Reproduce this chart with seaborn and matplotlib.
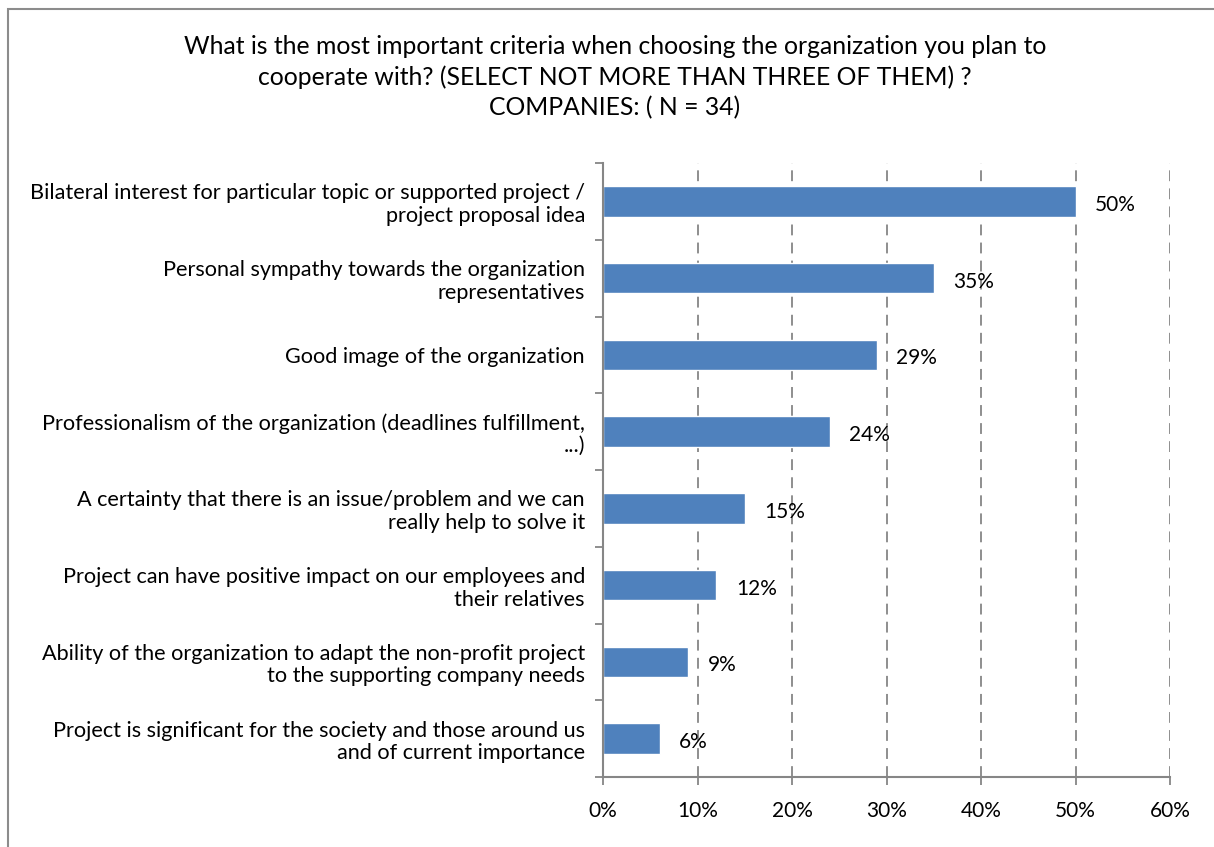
import matplotlib
matplotlib.use("Agg")
import matplotlib.pyplot as plt
from matplotlib.patches import Rectangle
from matplotlib.ticker import FixedLocator, MultipleLocator, FuncFormatter
import seaborn as sns
import pandas as pd

title_lines = [
    "What is the most important criteria when choosing the organization you plan to",
    "cooperate with? (SELECT NOT MORE THAN THREE OF THEM) ?",
    "COMPANIES: ( N = 34)",
]

criteria = [
    "Bilateral interest for particular topic or supported project /\nproject proposal idea",
    "Personal sympathy towards the organization\nrepresentatives",
    "Good image of the organization",
    "Professionalism of the organization (deadlines fulfillment,\n...)",
    "A certainty that there is an issue/problem and we can\nreally help to solve it",
    "Project can have positive impact on our employees and\ntheir relatives",
    "Ability of the organization to adapt the non-profit project\nto the supporting company needs",
    "Project is significant for the society and those around us\nand of current importance",
]
shares = [50, 35, 29, 24, 15, 12, 9, 6]

sns.set_theme(style="white")
plt.rcParams["font.family"] = ["Lato", "DejaVu Sans"]

BAR = "#4F81BD"
AXIS_GREY = "#868686"
FS_CAT = 15.6
FS_TICK = 15
FS_VAL = 15

fig = plt.figure(figsize=(12.14, 8.47), dpi=100)
fig.patch.set_facecolor("white")
ax = fig.add_axes([603 / 1214, 1 - 777 / 847, (1170 - 603) / 1214, (777 - 163) / 847])

df = pd.DataFrame({"criterion": criteria, "share": shares})
sns.barplot(data=df, y="criterion", x="share", orient="h", color=BAR,
            width=0.4, saturation=1, ax=ax, zorder=3)

ax.set_xlim(0, 60)
ax.set_ylim(len(criteria) - 0.5, -0.5)
ax.set_xlabel("")
ax.set_ylabel("")

# x axis: percentages with dashed vertical gridlines
ax.xaxis.set_major_locator(MultipleLocator(10))
ax.xaxis.set_major_formatter(FuncFormatter(lambda v, _: f"{v:.0f}%"))
ax.tick_params(axis="x", which="major", length=6, width=1.3, color=AXIS_GREY,
               direction="out", pad=11, labelsize=FS_TICK, labelcolor="black", bottom=True)
ax.grid(axis="x", which="major", linestyle=(0, (6, 4)), color=AXIS_GREY, linewidth=1.3, zorder=0)
ax.grid(axis="y", visible=False)

# y axis: labels at category centres, tick marks at category boundaries
ax.tick_params(axis="y", which="major", length=0, pad=13, labelsize=FS_CAT, labelcolor="black")
ax.yaxis.set_minor_locator(FixedLocator([i - 0.5 for i in range(len(criteria) + 1)]))
ax.tick_params(axis="y", which="minor", length=6, width=1.3, color=AXIS_GREY, direction="out", left=True)
for lbl in ax.get_yticklabels():
    lbl.set_horizontalalignment("right")
    lbl.set_multialignment("right")
    lbl.set_linespacing(1.15)

for side in ("top", "right"):
    ax.spines[side].set_visible(False)
for side in ("left", "bottom"):
    ax.spines[side].set_color(AXIS_GREY)
    ax.spines[side].set_linewidth(1.5)
    ax.spines[side].set_zorder(4)

# value labels at the end of each bar
for i, v in enumerate(shares):
    ax.annotate(f"{v}%", xy=(v, i), xytext=(14, -2.5), textcoords="offset points",
                va="center", ha="left", fontsize=FS_VAL, color="black")

# title
for k, line in enumerate(title_lines):
    fig.text(615 / 1214, 1 - (47 + 30.5 * k) / 847, line, ha="center", va="center",
             fontsize=17.8, color="black")

# chart border
fig.patches.append(Rectangle((8 / 1214, -0.05), 1.2, 1 - 9 / 847 + 0.05,
                             transform=fig.transFigure, fill=False,
                             edgecolor="#8C8C8C", linewidth=1.5))

fig.savefig("out.png", dpi=100, facecolor="white")
